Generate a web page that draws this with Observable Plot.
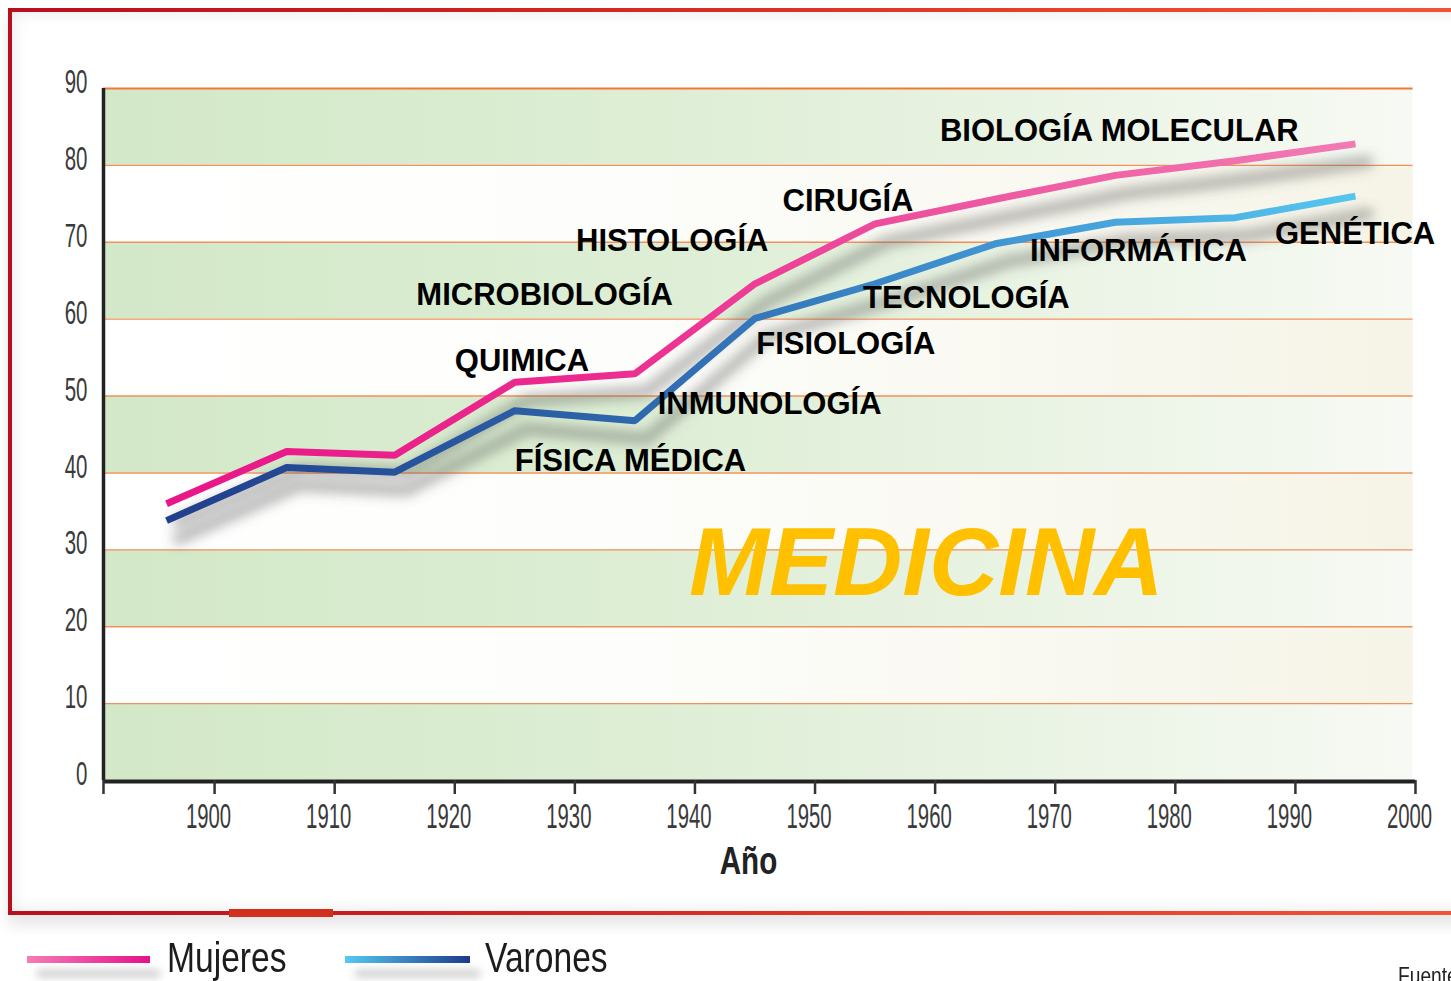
<!DOCTYPE html>
<html><head><meta charset="utf-8">
<script src="https://cdn.jsdelivr.net/npm/d3@7"></script>
<script src="https://cdn.jsdelivr.net/npm/@observablehq/plot@0.6"></script>
<style>
html,body{margin:0;padding:0;background:#fff;}
body{width:1451px;height:981px;overflow:hidden;position:relative;font-family:"Liberation Sans",Arial,sans-serif;}
#chart{position:absolute;left:0;top:0;}
#frame{position:absolute;left:8px;top:8px;width:1480px;height:907px;box-sizing:border-box;border:4px solid #c01020;
  border-image:linear-gradient(to right,#b80f1f 0%,#cf2420 35%,#e6402a 70%,#f2553a 100%) 1;
  box-shadow: inset 0 0 16px rgba(0,0,0,0.10), 0 10px 14px rgba(0,0,0,0.10);}
#seg{position:absolute;left:229px;top:909px;width:104px;height:8px;background:#d2301f;}
.lg-line{position:absolute;height:7px;box-shadow:10px 14px 8px rgba(0,0,0,0.22);}
.lg-text{position:absolute;font-size:42px;line-height:42px;color:#1c1c1c;transform:scaleX(0.8);transform-origin:left center;white-space:nowrap;}
#fuente{position:absolute;left:1398px;top:962px;font-size:24px;color:#222;transform:scaleX(0.8);transform-origin:left center;white-space:nowrap;}
</style>
</head><body>
<div id="chart"></div>
<div id="frame"></div>
<div id="seg"></div>
<div class="lg-line" style="left:27px;top:956px;width:123px;background:linear-gradient(to right,#f27db4,#e8108a);"></div>
<div class="lg-text" style="left:167px;top:937px;">Mujeres</div>
<div class="lg-line" style="left:345px;top:956px;width:125px;background:linear-gradient(to right,#55c8f2,#1e3a8a);"></div>
<div class="lg-text" style="left:485px;top:937px;">Varones</div>
<div id="fuente">Fuente:</div>
<script>
// ---- data ----
const years   = [1896, 1906, 1915, 1925, 1935, 1945, 1955, 1965, 1975, 1985, 1995];
const mujeres = [36.0, 42.8, 42.3, 51.8, 52.9, 64.6, 72.4, 75.6, 78.7, 80.6, 82.8];
const varones = [33.8, 40.7, 40.1, 48.1, 46.8, 60.1, 64.6, 69.8, 72.6, 73.2, 76.0];

const areas      = ["BIOLOGÍA MOLECULAR", "CIRUGÍA", "HISTOLOGÍA", "MICROBIOLOGÍA", "QUIMICA", "GENÉTICA", "INFORMÁTICA", "TECNOLOGÍA", "FISIOLOGÍA", "INMUNOLOGÍA", "FÍSICA MÉDICA"];
const areaYears  = [1960.4, 1947.3, 1930.1, 1916.8, 1920.0, 1988.3, 1967.9, 1954.0, 1945.1, 1936.9, 1925.0];
const areaValues = [84.5, 75.4, 70.1, 63.1, 54.5, 71.1, 68.8, 62.7, 56.8, 49.0, 41.5];

const mainTitle = "MEDICINA";
const titleYear = 1939.5;
const titleValue = 28.1;

const xLabel = "Año";
const yTicks = [0, 10, 20, 30, 40, 50, 60, 70, 80, 90];
const xTicks = [1900, 1910, 1920, 1930, 1940, 1950, 1960, 1970, 1980, 1990, 2000];
const bandStarts = [0, 10, 20, 30, 40, 50, 60, 70, 80];

// ---- build tables ----
const xStart = 1890.75, xEnd = 2000;
const mujData = years.map((year, i) => ({year, value: mujeres[i]}));
const varData = years.map((year, i) => ({year, value: varones[i]}));
const labelData = areas.map((label, i) => ({label, year: areaYears[i], value: areaValues[i]}));
const greenBands = bandStarts.filter((d, i) => i % 2 === 0);
const whiteBands = bandStarts.filter((d, i) => i % 2 === 1);

const W = 1451, H = 912;

const chart = Plot.plot({
  width: W, height: H,
  marginLeft: 103, marginRight: 36, marginTop: 88, marginBottom: H - 780,
  style: {background: "transparent", fontFamily: "Liberation Sans, Arial, sans-serif", overflow: "visible"},
  x: {domain: [xStart, xEnd], axis: null},
  y: {domain: [0, 90], axis: null},
  marks: [
    Plot.rect(greenBands, {x1: () => xStart, x2: () => xEnd - 0.2, y1: d => d, y2: d => d + 10, fill: "url(#bandGreen)"}),
    Plot.rect(whiteBands, {x1: () => xStart, x2: () => xEnd - 0.2, y1: d => d, y2: d => d + 10, fill: "url(#bandWhite)"}),
    Plot.ruleY(yTicks.filter(d => d > 0), {x1: () => xStart, x2: () => xEnd - 0.2, stroke: d => d === 90 ? "#f07a30" : "#f2905a", strokeWidth: d => d === 90 ? 2.2 : 1.4}),
    // shadows (first two line marks)
    Plot.line(mujData, {x: "year", y: "value", stroke: "#5a5a5a", strokeWidth: 13, strokeOpacity: 0.4, dx: 12, dy: 18}),
    Plot.line(varData, {x: "year", y: "value", stroke: "#5a5a5a", strokeWidth: 13, strokeOpacity: 0.4, dx: 12, dy: 18}),
    // series
    Plot.line(varData, {x: "year", y: "value", stroke: "url(#gradVar)", strokeWidth: 7, strokeLinecap: "butt", strokeLinejoin: "miter"}),
    Plot.line(mujData, {x: "year", y: "value", stroke: "url(#gradMuj)", strokeWidth: 7, strokeLinecap: "butt", strokeLinejoin: "miter"}),
    // axis lines
    Plot.ruleY([0], {stroke: "#222", strokeWidth: 4, dy: 1}),
    Plot.ruleX([xStart], {y1: 0, y2: 90, stroke: "#222", strokeWidth: 3.5}),
    // annotations
    Plot.text(labelData, {x: "year", y: "value", text: "label", textAnchor: "start", lineAnchor: "middle", fontSize: 31, fontWeight: "bold", fill: "#000"}),
    Plot.text([mainTitle], {x: () => titleYear, y: () => titleValue, text: d => d, textAnchor: "start", lineAnchor: "middle", fontSize: 96, fontWeight: "bold", fontStyle: "italic", fill: "#ffc000"}),
    // axes
    Plot.axisX({ticks: [xStart, ...xTicks], tickFormat: d => d < 1900 ? "" : String(d), tickSize: 14, tickPadding: 9, fontSize: 35, fill: "#3a3a3a", stroke: "#333", strokeWidth: 2.5, label: null}),
    Plot.axisY({ticks: yTicks, tickFormat: d => String(d), tickSize: 0, tickPadding: 16, dy: -6, fontSize: 33, fill: "#3a3a3a", label: null}),
    Plot.text([xLabel], {frameAnchor: "bottom", text: d => d, dx: -11, dy: 93, fontSize: 39, fontWeight: "bold", fill: "#222"})
  ]
});

// defs: gradients & blur
const ns = "http://www.w3.org/2000/svg";
const xs = chart.scale("x");
const px0 = xs.apply(xStart), px1 = xs.apply(xEnd);
const defs = document.createElementNS(ns, "defs");
function grad(id, stops, x1, x2) {
  const g = document.createElementNS(ns, "linearGradient");
  g.setAttribute("id", id);
  g.setAttribute("gradientUnits", "userSpaceOnUse");
  g.setAttribute("x1", x1); g.setAttribute("x2", x2);
  g.setAttribute("y1", 0); g.setAttribute("y2", 0);
  for (const [o, c] of stops) {
    const s = document.createElementNS(ns, "stop");
    s.setAttribute("offset", o); s.setAttribute("stop-color", c);
    g.appendChild(s);
  }
  defs.appendChild(g);
}
const mx0 = xs.apply(years[0]), mx1 = xs.apply(years[years.length - 1]);
grad("gradMuj", [[0, "#e9168a"], [0.35, "#ec2a8e"], [0.7, "#ee5aa2"], [1, "#f27bb4"]], mx0, mx1);
grad("gradVar", [[0, "#213f8c"], [0.35, "#2c62a8"], [0.6, "#3a86c8"], [1, "#55c6f0"]], mx0, mx1);
grad("bandGreen", [[0, "#d3e8c8"], [0.35, "#dbedd2"], [0.7, "#e9f3e3"], [1, "#f7faf4"]], px0, px1);
grad("bandWhite", [[0, "#ffffff"], [0.4, "#fdfdfb"], [0.8, "#f8f7ee"], [1, "#f6f4e6"]], px0, px1);
const f = document.createElementNS(ns, "filter");
f.setAttribute("id", "blurShadow");
f.setAttribute("filterUnits", "userSpaceOnUse");
f.setAttribute("x", 0); f.setAttribute("y", 0); f.setAttribute("width", W); f.setAttribute("height", H);
const fb = document.createElementNS(ns, "feGaussianBlur");
fb.setAttribute("stdDeviation", 6);
f.appendChild(fb);
defs.appendChild(f);
chart.insertBefore(defs, chart.firstChild);
const lineGroups = chart.querySelectorAll('g[aria-label="line"]');
if (lineGroups[0]) lineGroups[0].setAttribute("filter", "url(#blurShadow)");
if (lineGroups[1]) lineGroups[1].setAttribute("filter", "url(#blurShadow)");

// condense tick labels and axis title
function squeezeEls(els, sx, dx = 0) {
  els.forEach(t => {
    const tr = t.getAttribute("transform");
    if (tr) t.setAttribute("transform", `translate(${dx},0) ` + tr + ` scale(${sx},1)`);
    else {
      const x = +t.getAttribute("x") || 0, y = +t.getAttribute("y") || 0;
      t.removeAttribute("x"); t.removeAttribute("y");
      t.setAttribute("transform", `translate(${x + dx},${y}) scale(${sx},1)`);
    }
  });
}
squeezeEls(chart.querySelectorAll('g[aria-label="x-axis tick label"] text'), 0.58, -6);
squeezeEls(chart.querySelectorAll('g[aria-label="y-axis tick label"] text'), 0.62);
const textGroups = chart.querySelectorAll('g[aria-label="text"]');
const lastText = textGroups[textGroups.length - 1];
if (lastText) squeezeEls(lastText.querySelectorAll("text"), 0.76);

document.getElementById("chart").appendChild(chart);
</script>
</body></html>
